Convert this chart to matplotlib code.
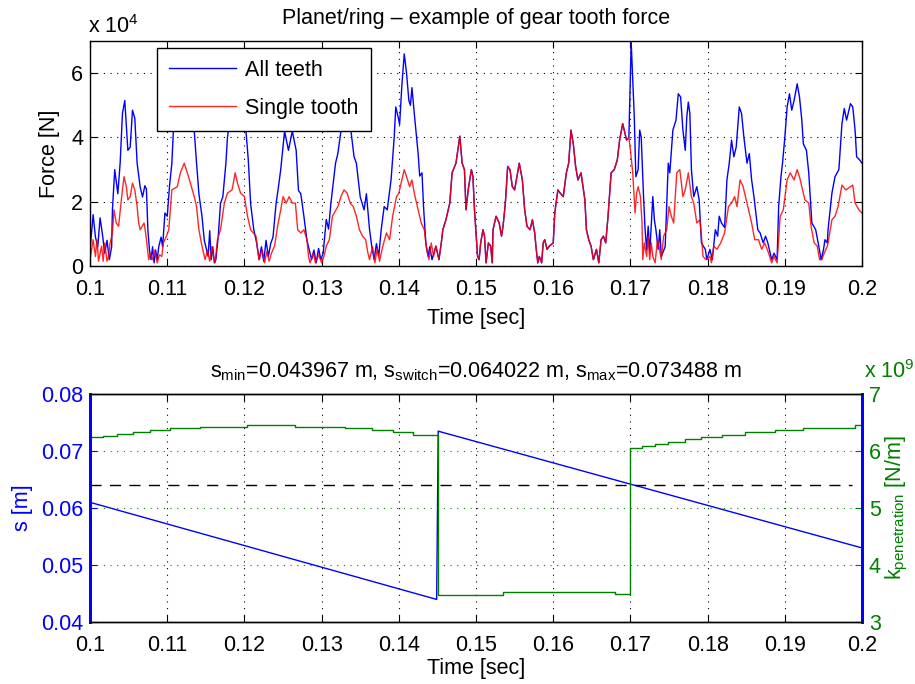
import matplotlib
matplotlib.use("Agg")
import matplotlib.pyplot as plt

plt.rcParams['font.family'] = ['Liberation Sans', 'DejaVu Sans']
plt.rcParams['mathtext.fontset'] = 'custom'
plt.rcParams['mathtext.rm'] = 'Liberation Sans'
plt.rcParams['mathtext.it'] = 'Liberation Sans'
plt.rcParams['mathtext.default'] = 'regular'

# ---- top plot: gear tooth force, in units of 1e4 N ----
# all teeth, before the overlap
all_t_a = [0.1000, 0.1004, 0.1007, 0.1010, 0.1013, 0.1016, 0.1019, 0.1022, 0.1025, 0.1028,
           0.1029, 0.1032, 0.1036, 0.1039, 0.1042, 0.1045, 0.1049, 0.1052, 0.1055, 0.1058,
           0.1061, 0.1065, 0.1068, 0.1071, 0.1073, 0.1075, 0.1077,
           0.1079, 0.1081, 0.1083, 0.1085, 0.1087, 0.1089,
           0.1092, 0.1094, 0.1097, 0.1100, 0.1103, 0.1106, 0.1109, 0.1115, 0.1122, 0.1128,
           0.1135, 0.1138, 0.1141, 0.1145, 0.1148, 0.1151,
           0.1153, 0.1155, 0.1157, 0.1159, 0.1161, 0.1163,
           0.1166, 0.1169, 0.1172, 0.1176, 0.1178, 0.1185, 0.1195, 0.1202, 0.1205, 0.1208,
           0.1212, 0.1216,
           0.1219, 0.1222, 0.1225, 0.1228, 0.1231, 0.1234, 0.1237,
           0.1241, 0.1244, 0.1247, 0.1252, 0.1257, 0.1262, 0.1267, 0.1270, 0.1273, 0.1277,
           0.1281, 0.1284, 0.1287,
           0.1290, 0.1293, 0.1296, 0.1299, 0.1302,
           0.1306, 0.1309, 0.1312, 0.1318, 0.1321, 0.1325, 0.1331, 0.1338, 0.1342, 0.1345,
           0.1350, 0.1355, 0.1358, 0.1362, 0.1365,
           0.1368, 0.1371, 0.1374, 0.1377,
           0.1381, 0.1385, 0.1390, 0.1394, 0.1396, 0.1399, 0.1401, 0.1404, 0.1407, 0.1410,
           0.1413, 0.1415, 0.1417, 0.1420, 0.1425, 0.1427, 0.1430, 0.1432, 0.1435, 0.1438,
           0.1440, 0.1443]
all_f_a = [0.5, 1.6, 0.9, 0.6, 1.5, 1.0, 0.4, 0.8, 0.2, 0.6,
           1.75, 3.0, 2.25, 3.2, 4.75, 5.15, 3.6, 3.7, 4.85, 4.6,
           3.2, 2.45, 2.15, 2.5, 2.4, 1.1, 0.5,
           0.2, 0.6, 0.1, 0.5, 0.2, 0.6,
           0.9, 0.6, 1.65, 1.55, 2.5, 3.2, 4.75, 5.4, 5.6, 5.0,
           4.2, 3.2, 2.25, 1.55, 0.8, 0.5,
           0.3, 1.1, 0.2, 0.6, 0.1, 0.2,
           0.9, 1.95, 2.15, 3.2, 4.0, 5.2, 5.0, 4.2, 3.3, 1.95,
           1.15, 0.7,
           0.2, 0.6, 0.15, 0.8, 0.3, 0.7, 0.9,
           1.95, 2.45, 3.0, 4.2, 3.6, 4.2, 3.6, 2.35, 2.25, 1.55,
           0.8, 0.5, 0.2,
           0.5, 0.1, 0.55, 0.2, 0.4,
           1.45, 1.15, 1.95, 3.2, 3.5, 4.2, 5.3, 4.2, 3.4, 3.2,
           2.15, 1.75, 2.25, 1.15, 0.6,
           0.2, 0.7, 0.3, 1.1,
           1.85, 1.75, 2.7, 4.0, 4.95, 4.65, 4.4, 5.65, 6.6, 6.0,
           5.15, 5.0, 5.55, 4.75, 3.5, 2.8, 2.9, 1.85, 0.7, 0.3,
           0.6, 0.2]

# single tooth, before the overlap
one_t_a = [0.1000, 0.1002, 0.1004, 0.1007, 0.1009, 0.1011, 0.1015, 0.1017, 0.1019, 0.1022,
           0.1024, 0.1026, 0.1029, 0.1031, 0.1034, 0.1037, 0.1041, 0.1044, 0.1047, 0.1049,
           0.1052, 0.1055, 0.1058, 0.1061, 0.1063, 0.1065, 0.1070, 0.1072, 0.1074, 0.1076,
           0.1078, 0.1081, 0.1084, 0.1087, 0.1090, 0.1093, 0.1095, 0.1099, 0.1102, 0.1106,
           0.1113, 0.1117, 0.1122, 0.1126, 0.1130, 0.1135, 0.1138, 0.1141, 0.1145, 0.1149,
           0.1152, 0.1155, 0.1158, 0.1160, 0.1162, 0.1165, 0.1169, 0.1174, 0.1178, 0.1184,
           0.1188, 0.1191, 0.1195, 0.1200, 0.1204, 0.1208, 0.1215, 0.1217, 0.1219, 0.1223,
           0.1226, 0.1229, 0.1232, 0.1235, 0.1239, 0.1243, 0.1247, 0.1250, 0.1254, 0.1258,
           0.1262, 0.1266, 0.1269, 0.1273, 0.1277, 0.1281, 0.1283, 0.1285, 0.1289, 0.1292,
           0.1296, 0.1300, 0.1303, 0.1306, 0.1310, 0.1314, 0.1321, 0.1325, 0.1329, 0.1333,
           0.1337, 0.1341, 0.1345, 0.1349, 0.1353, 0.1357, 0.1360, 0.1362, 0.1366, 0.1369,
           0.1372, 0.1375, 0.1379, 0.1384, 0.1388, 0.1392, 0.1397, 0.1400, 0.1403, 0.1407,
           0.1410, 0.1414, 0.1417, 0.1420, 0.1425, 0.1429, 0.1433, 0.1436, 0.1439, 0.1442,
           0.1445]
one_f_a = [0.2, 0.52, 0.82, 0.3, 0.82, 0.15, 0.62, 0.15, 0.72, 0.15,
           0.3, 0.72, 1.03, 1.75, 1.34, 1.24, 2.16, 2.78, 2.47, 2.06,
           2.16, 2.58, 2.37, 1.85, 1.34, 1.13, 1.34, 1.03, 0.62, 0.2,
           0.4, 0.2, 0.5, 0.1, 0.35, 0.3, 0.72, 0.93, 1.13, 2.37,
           2.47, 2.9, 3.2, 2.9, 2.58, 2.16, 1.85, 1.13, 0.62, 0.2,
           0.5, 0.15, 0.6, 0.3, 0.1, 0.82, 1.13, 1.96, 2.27, 2.37,
           2.9, 2.58, 2.27, 2.16, 1.55, 1.13, 0.93, 0.52, 0.2, 0.5,
           0.1, 0.45, 0.15, 0.4, 0.62, 1.24, 1.75, 2.16, 1.96, 2.16,
           1.96, 1.96, 1.13, 1.03, 1.13, 0.82, 0.3, 0.1, 0.4, 0.1,
           0.35, 0.1, 0.3, 0.62, 0.82, 1.55, 1.85, 2.16, 2.37, 2.27,
           1.96, 1.85, 1.55, 1.13, 0.93, 0.82, 0.4, 0.2, 0.6, 0.1,
           0.55, 0.15, 0.6, 1.03, 0.82, 1.55, 2.16, 2.27, 2.58, 3.0,
           2.78, 2.47, 2.68, 2.27, 1.75, 1.34, 1.13, 0.52, 0.2, 0.72,
           0.3]

# stretch where one tooth carries the whole load (both curves coincide)
shared_t = [0.1448, 0.1452, 0.1455, 0.1457, 0.1461, 0.1466, 0.1469, 0.1474, 0.1479, 0.1482,
            0.1485, 0.1487, 0.1490, 0.1494, 0.1496, 0.1498, 0.1502, 0.1504, 0.1506, 0.1509,
            0.1511, 0.1513, 0.1516, 0.1519, 0.1521, 0.1522, 0.1526, 0.1530, 0.1533, 0.1535,
            0.1538, 0.1541, 0.1544, 0.1547, 0.1550, 0.1553, 0.1556, 0.1560, 0.1563, 0.1566,
            0.1570, 0.1573, 0.1576, 0.1578, 0.1580, 0.1582, 0.1585, 0.1587, 0.1589, 0.1592,
            0.1595, 0.1600, 0.1602, 0.1606, 0.1609, 0.1613, 0.1617, 0.1620, 0.1623, 0.1626,
            0.1629, 0.1632, 0.1636, 0.1641, 0.1643, 0.1646, 0.1649, 0.1652, 0.1656, 0.1659,
            0.1662, 0.1665, 0.1668, 0.1671, 0.1675, 0.1679, 0.1683, 0.1686, 0.1690, 0.1692,
            0.1695, 0.1698]
shared_f = [0.62, 0.2, 0.72, 1.13, 1.44, 1.96, 2.9, 3.2, 4.04, 3.2,
            3.0, 1.75, 2.4, 3.0, 2.78, 1.75, 0.3, 0.2, 0.72, 1.13,
            0.93, 0.1, 0.72, 0.62, 0.1, 1.13, 1.55, 1.34, 0.93, 1.24,
            1.96, 3.1, 3.0, 2.47, 2.37, 2.78, 3.2, 2.68, 1.75, 1.24,
            1.13, 1.44, 1.03, 0.52, 0.1, 0.3, 0.1, 0.72, 0.82, 0.52,
            0.62, 0.72, 1.65, 2.37, 2.27, 2.16, 2.9, 3.2, 4.23, 3.8,
            3.1, 2.68, 2.9, 2.06, 1.13, 0.82, 0.62, 0.2, 0.52, 0.1,
            0.82, 0.93, 0.72, 1.55, 2.9, 3.0, 3.3, 3.92, 4.43, 4.23,
            3.92, 4.0]

# all teeth, after the overlap
all_t_b = [0.1701, 0.1703, 0.1705, 0.1707, 0.1710, 0.1712, 0.1714, 0.1716, 0.1717, 0.1719,
           0.1721, 0.1723, 0.1725, 0.1729, 0.1731, 0.1733, 0.1736, 0.1738, 0.1740, 0.1745,
           0.1749, 0.1751, 0.1755, 0.1759, 0.1762, 0.1765, 0.1768, 0.1771, 0.1773, 0.1775,
           0.1777, 0.1779, 0.1782, 0.1786, 0.1789, 0.1792, 0.1797, 0.1799, 0.1803, 0.1806,
           0.1810, 0.1813, 0.1815, 0.1818, 0.1822, 0.1825, 0.1828, 0.1831, 0.1834, 0.1837,
           0.1841, 0.1844, 0.1847, 0.1851, 0.1854, 0.1857, 0.1860, 0.1865, 0.1868, 0.1872,
           0.1875, 0.1878, 0.1881, 0.1883, 0.1886, 0.1890, 0.1892, 0.1895, 0.1897, 0.1900,
           0.1903, 0.1906, 0.1909, 0.1912, 0.1916, 0.1919, 0.1922, 0.1924, 0.1928, 0.1931,
           0.1935, 0.1940, 0.1944, 0.1947, 0.1950, 0.1952, 0.1955, 0.1956, 0.1961, 0.1965,
           0.1970, 0.1974, 0.1977, 0.1980, 0.1985, 0.1988, 0.1991, 0.1993, 0.1997, 0.2000]
all_f_b = [6.96, 5.77, 4.64, 2.78, 3.0, 4.23, 4.0, 2.78, 2.16, 1.13,
           0.52, 1.24, 0.4, 2.16, 1.44, 1.13, 0.52, 1.13, 0.3, 0.6,
           3.2, 2.9, 4.23, 4.54, 5.36, 5.26, 4.23, 3.6, 4.64, 5.1,
           4.74, 3.0, 2.16, 2.47, 2.06, 0.72, 0.52, 0.2, 0.52, 0.2,
           1.13, 0.93, 1.55, 1.34, 1.2, 2.68, 3.2, 3.92, 3.4, 3.7,
           4.95, 4.74, 4.0, 3.2, 3.5, 2.68, 2.16, 1.13, 1.03, 0.72,
           0.93, 0.72, 0.4, 0.2, 0.4, 0.2, 1.85, 2.78, 3.2, 4.0,
           4.95, 5.36, 4.85, 5.15, 5.67, 5.26, 4.54, 3.8, 3.6, 2.9,
           1.34, 1.13, 0.62, 0.2, 0.5, 0.82, 0.72, 1.13, 2.27, 2.78,
           3.0, 4.43, 4.9, 4.54, 5.05, 4.95, 4.23, 3.4, 3.3, 3.2]

# single tooth, after the overlap
one_t_b = [0.1700, 0.1703, 0.1706, 0.1708, 0.1710, 0.1713, 0.1715, 0.1716, 0.1718, 0.1721,
           0.1723, 0.1725, 0.1727, 0.1729, 0.1732, 0.1735, 0.1737, 0.1740, 0.1743, 0.1747,
           0.1750, 0.1753, 0.1756, 0.1760, 0.1764, 0.1768, 0.1771, 0.1775, 0.1779, 0.1782,
           0.1786, 0.1790, 0.1792, 0.1794, 0.1798, 0.1803, 0.1805, 0.1808, 0.1812, 0.1817,
           0.1822, 0.1827, 0.1831, 0.1835, 0.1838, 0.1842, 0.1846, 0.1849, 0.1853, 0.1857,
           0.1861, 0.1866, 0.1870, 0.1874, 0.1879, 0.1883, 0.1886, 0.1890, 0.1894, 0.1898,
           0.1903, 0.1907, 0.1912, 0.1916, 0.1919, 0.1922, 0.1926, 0.1931, 0.1934, 0.1938,
           0.1942, 0.1945, 0.1948, 0.1951, 0.1955, 0.1956, 0.1961, 0.1965, 0.1969, 0.1974,
           0.1979, 0.1985, 0.1988, 0.1991, 0.1996, 0.2000]
one_f_b = [3.6, 2.9, 1.65, 2.27, 2.47, 2.16, 1.34, 0.2, 0.72, 0.3,
           0.93, 0.2, 0.72, 0.3, 0.1, 0.82, 0.62, 0.2, 0.93, 1.13,
           1.85, 1.55, 1.34, 2.9, 3.0, 2.16, 2.37, 2.9, 2.16, 1.96,
           1.34, 1.44, 0.93, 0.3, 0.2, 0.3, 0.1, 0.62, 0.52, 0.72,
           1.03, 1.85, 1.96, 2.16, 1.85, 2.68, 2.47, 2.16, 1.75, 1.34,
           0.82, 0.82, 0.52, 0.72, 0.4, 0.1, 0.3, 0.1, 1.55, 1.75,
           2.68, 2.9, 2.68, 3.0, 2.78, 2.47, 2.06, 1.96, 1.24, 0.72,
           0.62, 0.2, 0.2, 0.4, 0.62, 0.72, 1.44, 1.55, 1.85, 2.52,
           2.37, 2.47, 2.52, 1.96, 1.75, 1.65]

# ---- bottom plot: contact position and penetration stiffness ----
s_min = 0.043967
s_switch = 0.064022
s_max = 0.073488
s_t = [0.1000, 0.1449, 0.1451, 0.2000]
s_val = [0.0610, s_min, s_max, 0.0530]

k_t = [0.1000, 0.1017, 0.1035, 0.1056, 0.1078, 0.1104, 0.1142, 0.1203, 0.1266, 0.1330,
       0.1365, 0.1393, 0.1419, 0.1451, 0.1535, 0.1680, 0.1700, 0.1715, 0.1732, 0.1749,
       0.1771, 0.1792, 0.1818, 0.1848, 0.1887, 0.1924, 0.1991, 0.2000]
k_val = [6.24, 6.27, 6.30, 6.34, 6.37, 6.40, 6.43, 6.46, 6.43, 6.40,
         6.37, 6.34, 6.29, 3.47, 3.52, 3.49, 6.06, 6.09, 6.12, 6.16,
         6.21, 6.25, 6.29, 6.33, 6.37, 6.40, 6.46, 6.46]

x_ticks = [0.1, 0.11, 0.12, 0.13, 0.14, 0.15, 0.16, 0.17, 0.18, 0.19, 0.2]
x_labels = ['0.1', '0.11', '0.12', '0.13', '0.14', '0.15', '0.16', '0.17', '0.18', '0.19', '0.2']

FS = 15.5
BLUE = '#0000ff'
GREEN = '#008000'

fig = plt.figure(figsize=(9.15, 6.84), dpi=100)

# ------------------------------------------------------------ top
ax1 = fig.add_axes([0.0984, 0.611, 0.8437, 0.329])
ax1.plot(all_t_a + shared_t + all_t_b, all_f_a + shared_f + all_f_b,
         color=BLUE, lw=1.0, label='All teeth')
ax1.plot(one_t_a + shared_t + one_t_b, one_f_a + shared_f + one_f_b,
         color='#ff0000', lw=1.0, alpha=0.85, label='Single tooth')
ax1.set_xlim(0.1, 0.2)
ax1.set_ylim(0, 7)
ax1.set_xticks(x_ticks)
ax1.set_xticklabels(x_labels)
ax1.set_yticks([0, 2, 4, 6])
ax1.set_yticklabels(['0', '2', '4', '6'])
ax1.grid(True, color='black', linestyle=(0, (1, 5)), lw=0.8)
ax1.tick_params(direction='in', top=True, right=True, labelsize=FS, length=5)
ax1.tick_params(axis='x', pad=9)
ax1.tick_params(axis='y', pad=5)
ax1.set_xlabel('Time [sec]', fontsize=FS, labelpad=6)
ax1.set_ylabel('Force [N]', fontsize=FS, labelpad=8)
ax1.set_title('Planet/ring \u2013 example of gear tooth force', fontsize=FS, pad=12)
ax1.text(-0.003, 1.015, r'x 10$^4$', transform=ax1.transAxes, fontsize=FS,
         ha='left', va='bottom')
leg = ax1.legend(loc='upper left', bbox_to_anchor=(0.087, 0.970), fontsize=FS,
                 fancybox=False, framealpha=1, edgecolor='black', handlelength=3.1,
                 handletextpad=0.45, borderaxespad=0, borderpad=0.55, labelspacing=0.8)
leg.get_frame().set_linewidth(1.0)
for sp in ax1.spines.values():
    sp.set_linewidth(1.0)

# ------------------------------------------------------------ bottom
ax2 = fig.add_axes([0.0984, 0.0906, 0.8437, 0.3333])
ax3 = ax2.twinx()
ax2.plot(s_t, s_val, color=BLUE, lw=1.0)
ax2.plot([0.1, 0.1987], [s_switch, s_switch], color='black', lw=1.0,
         linestyle=(0, (8, 6)))
ax3.plot(k_t, k_val, color=GREEN, lw=1.0, drawstyle='steps-post')

ax2.set_xlim(0.1, 0.2)
ax2.set_ylim(0.04, 0.08)
ax2.set_yticks([0.04, 0.05, 0.06, 0.07, 0.08])
ax2.set_yticklabels(['0.04', '0.05', '0.06', '0.07', '0.08'])
ax2.set_xticks(x_ticks)
ax2.set_xticklabels(x_labels)
ax2.xaxis.grid(True, color='black', linestyle=(0, (1, 5)), lw=0.8)
ax2.tick_params(axis='x', direction='in', top=True, labelsize=FS, length=5, pad=9)
ax2.tick_params(axis='y', direction='in', colors=BLUE, labelsize=FS, length=5, pad=5)
ax2.set_xlabel('Time [sec]', fontsize=FS, labelpad=2)
ax2.set_ylabel('s [m]', fontsize=FS, color=BLUE, labelpad=6)
ax2.set_title(r's$_{min}$=%.6f m, s$_{switch}$=%.6f m, s$_{max}$=%.6f m'
              % (s_min, s_switch, s_max), fontsize=FS, pad=12)

ax3.set_ylim(3, 7)
ax3.set_yticks([3, 4, 5, 6, 7])
ax3.set_yticklabels(['3', '4', '5', '6', '7'])
ax3.yaxis.grid(True, color=GREEN, linestyle=(0, (1, 5)), lw=0.8)
ax3.tick_params(axis='y', direction='in', colors=GREEN, labelsize=FS, length=5, pad=5)
ax3.set_ylabel(r'k$_{penetration}$ [N/m]', fontsize=FS, color=GREEN, labelpad=2)
ax3.text(1.003, 1.05, r'x 10$^9$', transform=ax3.transAxes, fontsize=FS,
         color=GREEN, ha='left', va='bottom')

for ax in (ax2, ax3):
    ax.spines['left'].set_color(BLUE)
    ax.spines['right'].set_color(BLUE)
    ax.spines['left'].set_linewidth(2.0)
    ax.spines['right'].set_linewidth(2.0)
    ax.spines['top'].set_linewidth(1.0)
    ax.spines['bottom'].set_linewidth(1.0)

fig.savefig('out.png', dpi=100)
